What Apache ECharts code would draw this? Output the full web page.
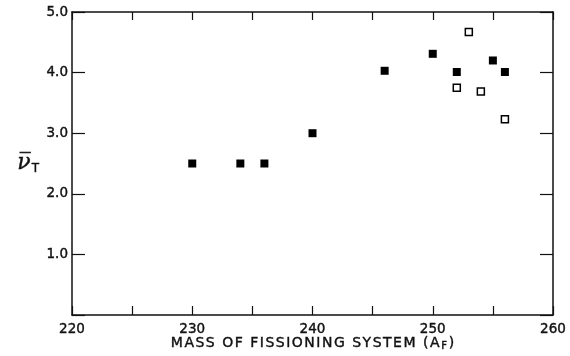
<!DOCTYPE html>
<html><head><meta charset="utf-8">
<script src="https://cdn.jsdelivr.net/npm/echarts@6/dist/echarts.min.js"></script>
<style>html,body{margin:0;padding:0;background:#fff}#c{width:570px;height:356px}</style>
</head><body><div id="c"></div>
<script>
const filledMass = [230, 234, 236, 240, 246, 250, 252, 255, 256];
const filledNu   = [2.5, 2.5, 2.5, 3.0, 4.03, 4.31, 4.01, 4.2, 4.01];
const openMass   = [253, 252, 254, 256];
const openNu     = [4.67, 3.75, 3.69, 3.23];
const xTicks = [220, 230, 240, 250, 260];
const yTicks = [1.0, 2.0, 3.0, 4.0, 5.0];
const xTitle = 'MASS OF FISSIONING SYSTEM (A';
const xTitleSub = 'F';

const ink = '#111';
const font = 'DejaVu Sans';
const heavy = {textBorderColor: ink, textBorderWidth: 0.4};
// spaced lettering for the axis title (each character is its own text token)
const spaced = s => s.split('').map(c => '{a|' + c + '}').join('');
const chart = echarts.init(document.getElementById('c'), null, {renderer: 'canvas'});
const axisLine = {show: true, onZero: false, lineStyle: {color: ink, width: 1.5}};
chart.setOption({
  backgroundColor: '#fff',
  animation: false,
  grid: {left: 72, right: 17, top: 12, bottom: 41, containLabel: false, outerBoundsMode: 'none'},
  xAxis: [{
    type: 'value', min: 220, max: 260, interval: 5, position: 'bottom',
    axisLine: axisLine,
    axisTick: {show: true, inside: true, length: 9, lineStyle: {color: ink, width: 1.2}},
    axisLabel: Object.assign({color: ink, fontFamily: font, fontSize: 13.5, margin: 7,
      formatter: v => xTicks.includes(v) ? String(v) : ''}, heavy),
    splitLine: {show: false},
    name: spaced(xTitle) + '{s|' + xTitleSub + '}{a|)}',
    nameLocation: 'middle', nameGap: 20, nameMoveOverlap: false,
    nameTextStyle: {rich: {
      a: Object.assign({fontFamily: font, fontSize: 14, color: ink, padding: [0, 0.75, 0, 0.75]}, heavy),
      s: Object.assign({fontFamily: font, fontSize: 10, color: ink, verticalAlign: 'bottom', padding: [6, 1, 0, 1]}, heavy)
    }}
  }, {
    type: 'value', min: 220, max: 260, interval: 5, position: 'top',
    axisLine: axisLine,
    axisTick: {show: true, inside: true, length: 8, lineStyle: {color: ink, width: 1.2}},
    axisLabel: {show: false}, splitLine: {show: false}
  }],
  yAxis: [{
    type: 'value', min: 0, max: 5, interval: 1, position: 'left',
    axisLine: axisLine,
    axisTick: {show: true, inside: true, length: 13, lineStyle: {color: ink, width: 1.2}},
    axisLabel: Object.assign({color: ink, fontFamily: font, fontSize: 13.5, margin: 4,
      formatter: v => yTicks.includes(v) ? v.toFixed(1) : ''}, heavy),
    splitLine: {show: false},
    name: '{n|ν\u0305}{s|T}', nameLocation: 'middle', nameGap: 33, nameRotate: 0, nameMoveOverlap: false,
    nameTextStyle: {rich: {
      n: Object.assign({fontFamily: 'DejaVu Serif', fontStyle: 'italic', fontSize: 22, color: ink}, heavy),
      s: Object.assign({fontFamily: font, fontSize: 12, color: ink, verticalAlign: 'bottom', padding: [7, 0, 0, 1]}, heavy)
    }}
  }, {
    type: 'value', min: 0, max: 5, interval: 1, position: 'right',
    axisLine: axisLine,
    axisTick: {show: true, inside: true, length: 13, lineStyle: {color: ink, width: 1.2}},
    axisLabel: {show: false}, splitLine: {show: false}
  }],
  series: [{
    type: 'scatter', xAxisIndex: 0, yAxisIndex: 0,
    symbol: 'rect', symbolSize: 8,
    itemStyle: {color: '#000', opacity: 1},
    data: filledMass.map((m, i) => [m, filledNu[i]])
  }, {
    type: 'scatter', xAxisIndex: 0, yAxisIndex: 0,
    symbol: 'rect', symbolSize: 7,
    itemStyle: {color: '#fff', borderColor: '#000', borderWidth: 1.5, opacity: 1},
    data: openMass.map((m, i) => [m, openNu[i]])
  }]
});
</script></body></html>
